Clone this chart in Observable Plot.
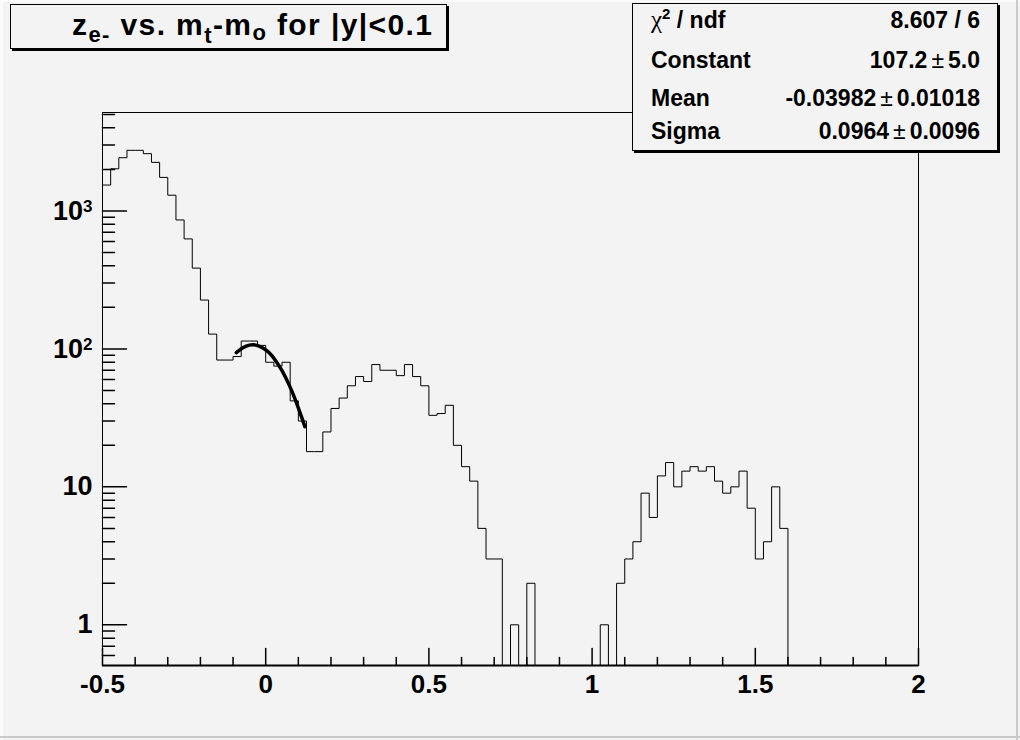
<!DOCTYPE html>
<html><head><meta charset="utf-8">
<script src="https://cdn.jsdelivr.net/npm/d3@7"></script>
<script src="https://cdn.jsdelivr.net/npm/@observablehq/plot@0.6"></script>
<style>
html,body{margin:0;padding:0;background:#f3f3f3;}
#wrap{position:relative;width:1020px;height:740px;overflow:hidden;font-family:"Liberation Sans",Arial,Helvetica,sans-serif;}
#overlay{position:absolute;left:0;top:0;pointer-events:none;}
</style></head><body><div id="wrap"></div>
<script>
// ---- data ----
const binStart = -0.5;
const binWidth = 0.025;
const counts = [
  1540, 2020, 2430, 2750, 2750, 2600, 2250, 1750, 1300, 860,
  627, 385, 226, 128, 83, 83, 88, 114, 114, 106,
  80, 75, 80, 42, 30, 18, 18, 25, 37, 44,
  54, 63, 58, 77, 70, 70, 64, 77, 63, 54,
  33, 34, 39, 20, 14, 11, 5, 3, 3, 0,
  1, 0, 2, 0, 0, 0, 0, 0, 0, 0,
  0, 1, 0, 2, 3, 4, 9, 6, 12, 15,
  10, 13, 14, 13, 14, 11, 9, 10, 13, 7,
  3, 4, 10, 5, 0, 0, 0, 0, 0, 0,
  0, 0, 0, 0, 0, 0, 0, 0, 0, 0
];
const fitX = [-0.09, -0.07, -0.05, -0.03, -0.01, 0.01, 0.03, 0.05, 0.07, 0.09, 0.11, 0.12];
const fitY = [94, 102, 106.5, 106.5, 102, 94, 82.5, 69.5, 56, 43.3, 32, 27.3];

const xDomain = [-0.5, 2];
const yDomain = [0.507, 5170];
const xLabelTicks = [-0.5, 0, 0.5, 1, 1.5, 2];
const xLabels = ["-0.5", "0", "0.5", "1", "1.5", "2"];
const xMinorTicks = [-0.4, -0.3, -0.2, -0.1, 0.1, 0.2, 0.3, 0.4, 0.6, 0.7, 0.8, 0.9,
  1.1, 1.2, 1.3, 1.4, 1.6, 1.7, 1.8, 1.9];
const yLabelTicks = [1, 10, 100, 1000];
const yLabelBase = ["1", "10", "10", "10"];
const yLabelExp = ["", "", "2", "3"];
const yMinorTicks = [0.6, 0.7, 0.8, 0.9, 2, 3, 4, 5, 6, 7, 8, 9, 20, 30, 40, 50, 60, 70, 80, 90,
  200, 300, 400, 500, 600, 700, 800, 900, 2000, 3000, 4000, 5000];

const titleText = {main: "z", sub1: "e-", mid1: " vs. m", sub2: "t", mid2: "-m", sub3: "o", tail: " for |y|<0.1"};
const statLabels = ["χ² / ndf", "Constant", "Mean", "Sigma"];
const statValues = [["8.607 / 6"], ["107.2", "5.0"], ["-0.03982", "0.01018"], ["0.0964", "0.0096"]];

// ---- build tables ----
const steps = [{x: binStart, y: yDomain[0]}];
counts.forEach((c, i) => {
  const lo = binStart + i * binWidth, hi = lo + binWidth;
  const v = c > 0 ? c : yDomain[0];
  steps.push({x: lo, y: v}, {x: hi, y: v});
});
const fit = fitX.map((x, i) => ({x, y: fitY[i]}));

const tickShape = {draw(ctx, l) { ctx.moveTo(0, 0); ctx.lineTo(0, -l); }};

const chart = Plot.plot({
  width: 1020, height: 740,
  marginLeft: 102, marginRight: 102, marginTop: 112, marginBottom: 75,
  style: {background: "#f3f3f3", fontFamily: "'Liberation Sans', Arial, Helvetica, sans-serif", color: "black"},
  x: {domain: xDomain, label: null},
  y: {type: "log", domain: yDomain, label: null},
  marks: [
    Plot.line(steps, {x: "x", y: "y", stroke: "black", strokeWidth: 1, clip: true}),
    Plot.line(fit, {x: "x", y: "y", stroke: "black", strokeWidth: 3.5, curve: "natural"}),
    Plot.frame({stroke: "black", strokeWidth: 1}),
    Plot.ruleY([yDomain[0]], {stroke: "black", strokeWidth: 2}),
    Plot.vector(xMinorTicks, {x: d => d, frameAnchor: "bottom", length: 8, anchor: "start", rotate: 0, shape: tickShape, stroke: "black"}),
    Plot.vector(xLabelTicks, {x: d => d, frameAnchor: "bottom", length: 17, anchor: "start", rotate: 0, shape: tickShape, stroke: "black"}),
    Plot.vector(yMinorTicks, {y: d => d, frameAnchor: "left", length: 12, anchor: "start", rotate: 90, shape: tickShape, stroke: "black"}),
    Plot.vector(yLabelTicks, {y: d => d, frameAnchor: "left", length: 24, anchor: "start", rotate: 90, shape: tickShape, stroke: "black"}),
    Plot.axisX(xLabelTicks, {tickSize: 0, tickPadding: 9, fontSize: 26, fontWeight: "bold", label: null,
      tickFormat: d => xLabels[xLabelTicks.indexOf(d)]}),
    Plot.axisY(yLabelTicks, {tickSize: 0, tickPadding: 10, fontSize: 27, fontWeight: "bold", label: null,
      tickFormat: d => yLabelBase[yLabelTicks.indexOf(d)] + yLabelExp[yLabelTicks.indexOf(d)]})
  ]
});
const wrap = document.getElementById("wrap");
wrap.appendChild(chart);

// turn "102"/"103" into 10 with a raised exponent
d3.select(chart).selectAll('g[aria-label="y-axis tick label"] text').each(function() {
  const s = this.textContent;
  const i = yLabelTicks.findIndex((v, k) => yLabelBase[k] + yLabelExp[k] === s);
  if (i >= 0 && yLabelExp[i]) {
    const el = d3.select(this);
    el.text(null);
    el.append("tspan").text(yLabelBase[i]);
    el.append("tspan").attr("font-size", 17).attr("dy", "-0.45em").text(yLabelExp[i]);
  }
});

// ---- overlay: title pave, stats box, canvas bevel ----
const svg = d3.select(wrap).append("svg").attr("id", "overlay").attr("width", 1020).attr("height", 740)
  .style("font-family", "'Liberation Sans', Arial, Helvetica, sans-serif");
svg.append("rect").attr("x", 0).attr("y", 0).attr("width", 1020).attr("height", 2).attr("fill", "#fbfbfb");
svg.append("rect").attr("x", 0).attr("y", 0).attr("width", 3).attr("height", 740).attr("fill", "#fbfbfb");
svg.append("rect").attr("x", 1016).attr("y", 0).attr("width", 2).attr("height", 740).attr("fill", "#c9c9c9");
svg.append("rect").attr("x", 0).attr("y", 736).attr("width", 1020).attr("height", 2).attr("fill", "#c9c9c9");

function pave(x, y, w, h) {
  svg.append("rect").attr("x", x + 2).attr("y", y + 2).attr("width", w).attr("height", h).attr("fill", "black");
  svg.append("rect").attr("x", x + 0.5).attr("y", y + 0.5).attr("width", w - 1).attr("height", h - 1)
    .attr("fill", "#f3f3f3").attr("stroke", "black").attr("stroke-width", 1);
}
pave(10, 4, 437, 45);
const t = svg.append("text").attr("x", 72).attr("y", 35)
  .attr("font-size", 30).attr("font-weight", "bold").style("white-space", "pre")
  .attr("textLength", 360).attr("lengthAdjust", "spacing");
t.append("tspan").text(titleText.main);
t.append("tspan").attr("font-size", 22).attr("dy", 7).text(titleText.sub1);
t.append("tspan").attr("dy", -7).text(titleText.mid1);
t.append("tspan").attr("font-size", 22).attr("dy", 8).text(titleText.sub2);
t.append("tspan").attr("dy", -8).text(titleText.mid2);
t.append("tspan").attr("font-size", 22).attr("dy", 5).text(titleText.sub3);
t.append("tspan").attr("dy", -5).text(titleText.tail);

pave(632, 3, 366, 148);
const baselines = [28, 68, 106, 139];
statLabels.forEach((lab, i) => {
  const tx = svg.append("text").attr("x", 651).attr("y", baselines[i]).attr("font-size", 23).attr("font-weight", "bold")
    .style("white-space", "pre");
  if (i === 0) {
    tx.append("tspan").attr("font-family", "'Liberation Serif', serif").attr("font-weight", "normal").attr("font-size", 25).text("χ");
    tx.append("tspan").attr("font-size", 15).attr("dy", -9).text("2");
    tx.append("tspan").attr("dy", 9).text(" / ndf");
  } else {
    tx.text(lab);
  }
  const v = statValues[i];
  const tv = svg.append("text").attr("x", 980).attr("y", baselines[i]).attr("font-size", 23).attr("font-weight", "bold")
    .attr("text-anchor", "end").style("white-space", "pre");
  tv.append("tspan").text(v[0]);
  if (v.length > 1) {
    tv.append("tspan").attr("dx", 4).attr("font-weight", "normal").text("±");
    tv.append("tspan").attr("dx", 4).text(v[1]);
  }
});
</script></body></html>
